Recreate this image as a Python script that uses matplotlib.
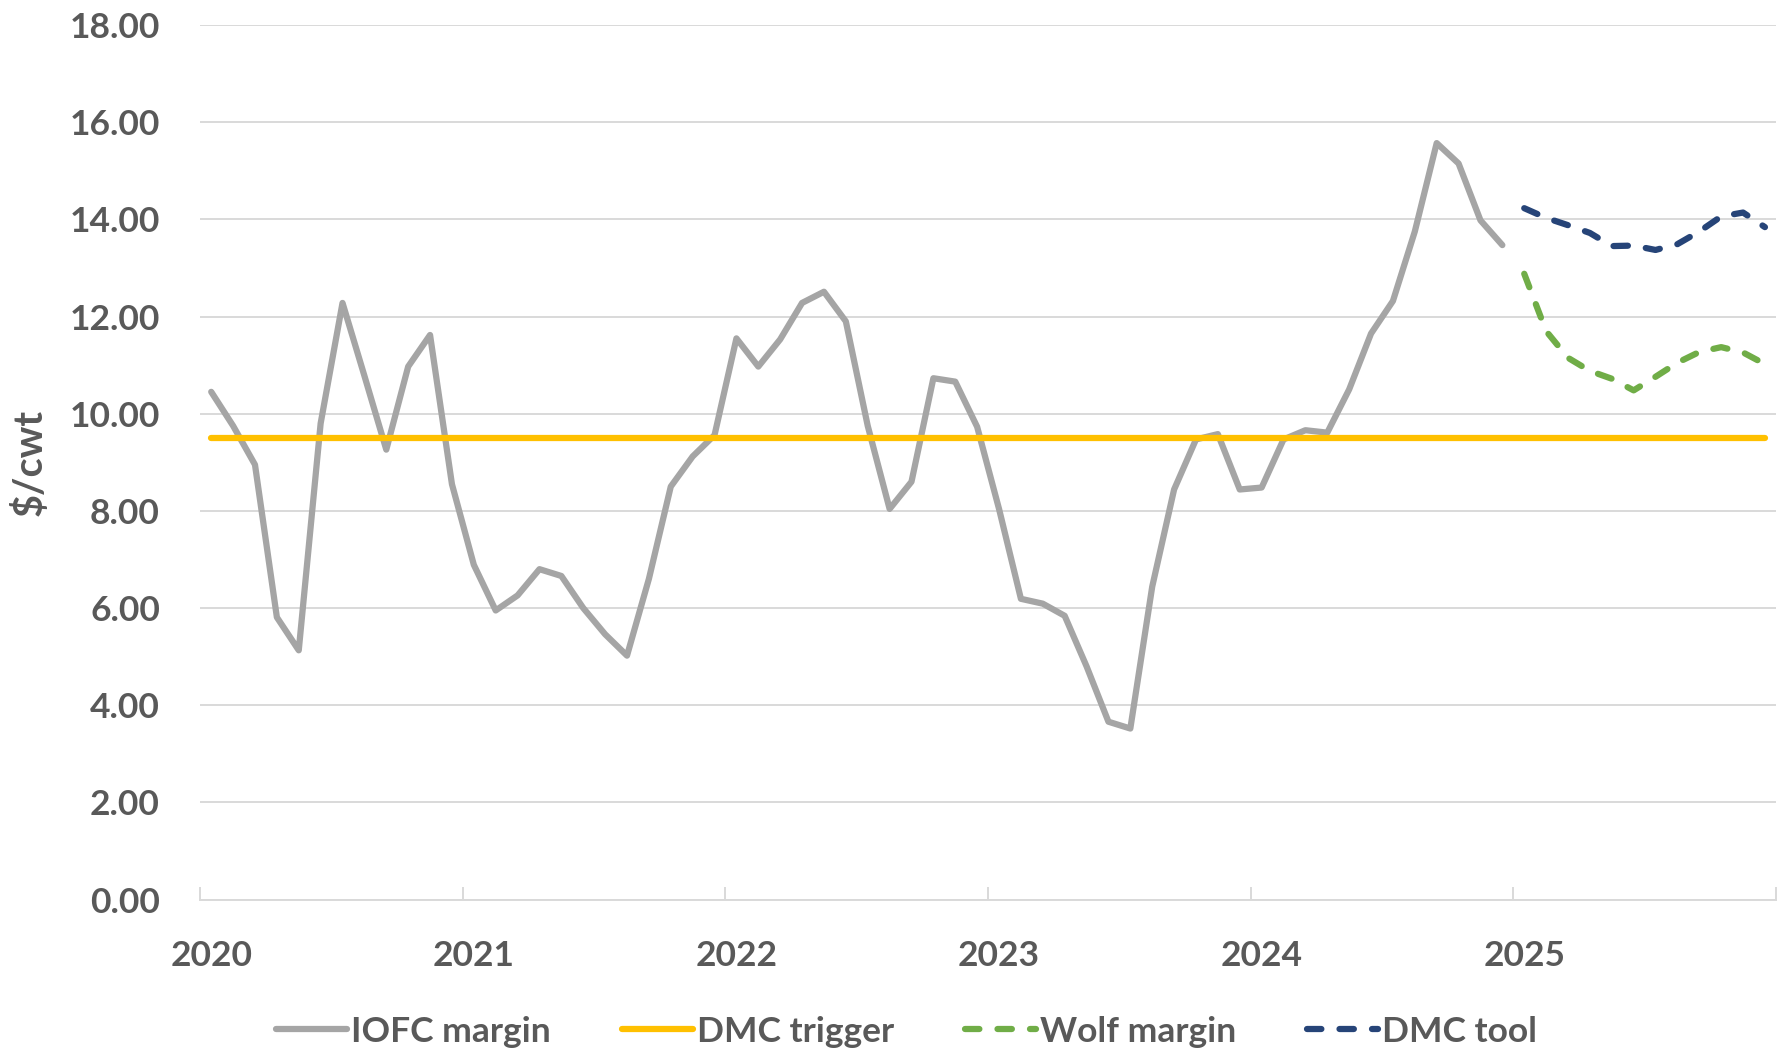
import numpy as np
import matplotlib.pyplot as plt
from matplotlib.ticker import FixedLocator, FormatStrFormatter

plt.rcParams['font.family'] = ['Lato', 'DejaVu Sans']

# monthly series, Jan 2020 .. Dec 2025
years = ['2020', '2021', '2022', '2023', '2024', '2025']

iofc_margin = [
    10.45, 9.75, 8.95, 5.81, 5.13, 9.80, 12.28, 10.78, 9.26, 10.97, 11.62, 8.55,
    6.89, 5.95, 6.26, 6.80, 6.66, 6.00, 5.46, 5.02, 6.60, 8.50, 9.12, 9.56,
    11.55, 10.97, 11.53, 12.28, 12.51, 11.90, 9.75, 8.04, 8.60, 10.73, 10.66, 9.73,
    8.04, 6.19, 6.09, 5.84, 4.80, 3.66, 3.52, 6.44, 8.44, 9.47, 9.58, 8.44,
    8.48, 9.47, 9.66, 9.61, 10.50, 11.65, 12.32, 13.75, 15.57, 15.15, 13.98, 13.47,
]
dmc_trigger = [9.5] * 72
wolf_margin = [12.88, 11.70, 11.15, 10.88, 10.72, 10.48, 10.76, 11.05, 11.27, 11.37, 11.26, 11.02]
dmc_tool = [14.23, 14.03, 13.88, 13.72, 13.45, 13.46, 13.37, 13.49, 13.75, 14.06, 14.14, 13.84]

months = np.arange(72)
text_color = '#595959'
grid_color = '#D9D9D9'

fig = plt.figure(figsize=(17.85, 10.51), dpi=100)
ax = fig.add_axes([0.1122, 0.1441, 0.8827, 0.8321])

ax.plot(months[:60], iofc_margin, color='#A5A5A5', lw=4.5,
        solid_joinstyle='round', solid_capstyle='round', label='IOFC margin', zorder=3)
ax.plot(months, dmc_trigger, color='#FFC000', lw=4.5,
        solid_capstyle='round', label='DMC trigger', zorder=3)
ax.plot(months[60:], wolf_margin, color='#70AD47', lw=4.5, dashes=(2.3, 2.9),
        dash_capstyle='round', dash_joinstyle='round', label='Wolf margin', zorder=3)
ax.plot(months[60:], dmc_tool, color='#264478', lw=4.5, dashes=(2.3, 2.9),
        dash_capstyle='round', dash_joinstyle='round', label='DMC tool', zorder=3)

ax.set_xlim(-0.5, 71.5)
ax.set_ylim(0, 18)
ax.set_yticks(np.arange(0, 19, 2))
ax.yaxis.set_major_formatter(FormatStrFormatter('%.2f'))
ax.grid(axis='y', color=grid_color, lw=1.4, zorder=0)

ax.set_xticks(np.arange(0, 72, 12))
ax.set_xticklabels(years)
ax.xaxis.set_minor_locator(FixedLocator(np.arange(-0.5, 72, 12)))
ax.tick_params(axis='x', which='major', length=0, pad=29)
ax.tick_params(axis='x', which='minor', length=9.5, width=1.4, direction='in', color=grid_color)
ax.tick_params(axis='y', length=0, pad=29)
for lab in ax.get_xticklabels() + ax.get_yticklabels():
    lab.set_fontsize(25.5)
    lab.set_fontweight('bold')
    lab.set_color(text_color)

for side in ['top', 'right', 'left']:
    ax.spines[side].set_visible(False)
ax.spines['bottom'].set_color(grid_color)
ax.spines['bottom'].set_linewidth(1.4)

ax.set_ylabel(r'\$/cwt', fontsize=28.5, fontweight='bold', color=text_color)
ax.yaxis.set_label_coords(-0.0965, 0.5)

fig.legend(loc='lower center', bbox_to_anchor=(0.508, -0.027), ncol=4, frameon=False,
           handlelength=2.0, handletextpad=0.12, columnspacing=2.0,
           prop={'size': 25.5, 'weight': 'bold'}, labelcolor=text_color)

fig.savefig('out.png', dpi=100)
